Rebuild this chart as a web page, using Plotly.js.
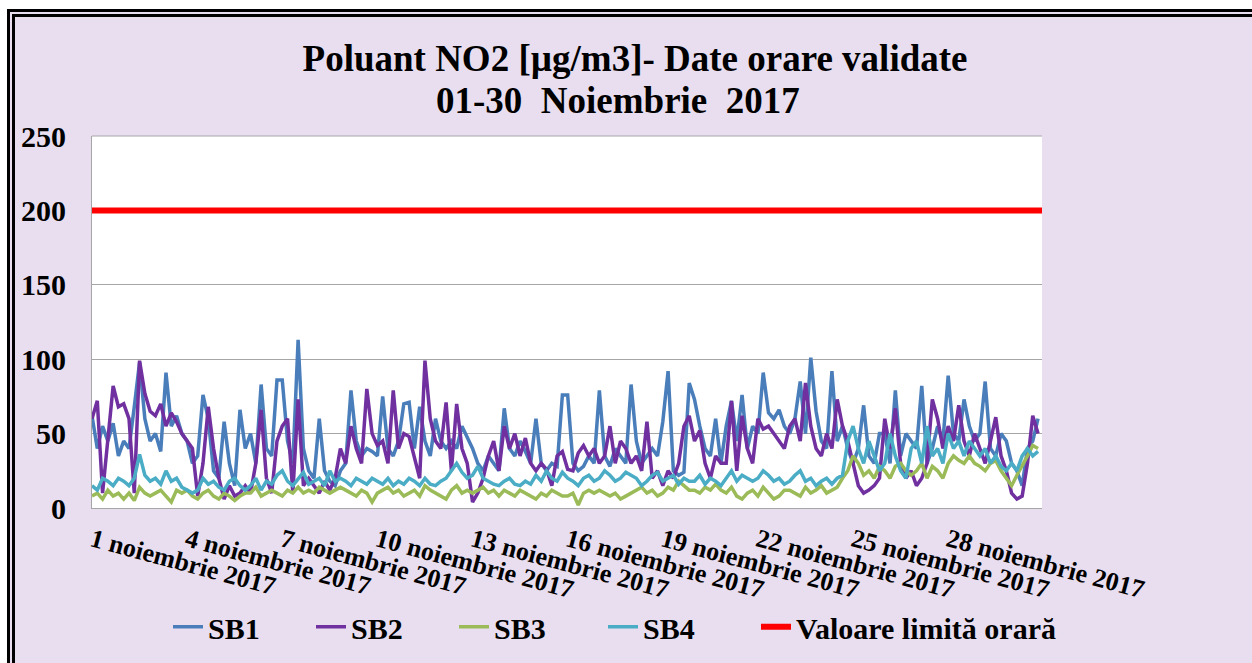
<!DOCTYPE html>
<html>
<head>
<meta charset="utf-8">
<script src="https://cdn.plot.ly/plotly-3.0.1.min.js"></script>
<style>
  html, body { margin: 0; padding: 0; background: #ffffff; width: 1252px; height: 663px; overflow: hidden; }
  #frame { position: absolute; left: 7px; top: 9px; width: 1300px; height: 700px;
           border: 8px double #000; background: #E8DEF0; }
  #chart { position: absolute; left: 0; top: 0; width: 1237px; height: 646px; }
</style>
</head>
<body>
<div id="frame"><div id="chart"></div></div>
<script>
// Day labels (every 3 days) and 4-hourly readings (00,04,08,12,16,20 h) per day, 1-30 Nov 2017
const tickDays = [1, 4, 7, 10, 13, 16, 19, 22, 25, 28];
const tickLabels = ["1 noiembrie 2017", "4 noiembrie 2017", "7 noiembrie 2017", "10 noiembrie 2017",
  "13 noiembrie 2017", "16 noiembrie 2017", "19 noiembrie 2017", "22 noiembrie 2017",
  "25 noiembrie 2017", "28 noiembrie 2017"];
const hoursOfDay = [0, 4, 8, 12, 16, 20];
const titleLine1 = "Poluant NO2 [µg/m3]- Date orare validate";
const titleLine2 = "01-30\u00A0 Noiembrie\u00A0 2017";

const SB1 = [
  62,40,55,45,57,35,  45,40,68,98,60,45,  50,38,91,55,62,50,  45,30,35,76,60,25,  20,58,30,15,66,40,
  50,30,83,40,35,86,  86,45,30,113,40,25, 20,60,25,18,15,25,  30,79,45,35,40,38,  35,75,40,35,45,70,
  71,40,68,45,35,60,  45,40,45,40,55,48,  40,30,25,35,30,25,  67,40,35,45,38,30,  60,30,25,30,28,76,
  76,30,25,28,35,30,  79,35,28,40,35,30,  83,45,30,35,40,35,  58,92,25,22,24,84,  73,55,40,35,60,30,
  55,72,45,76,40,55,  50,91,64,60,66,55,  50,60,85,50,101,65, 45,40,92,45,55,40,  30,40,69,35,30,50,
  50,30,79,35,50,45,  40,82,30,40,55,45,  89,50,45,73,55,45,  50,85,40,35,50,45,  30,25,15,40,45,60
];
const SB2 = [
  60,72,10,45,82,68,  70,60,10,99,77,65,  62,70,55,64,58,50,  45,40,8,30,68,40,   20,6,15,8,10,15,
  10,30,66,20,10,45,  55,60,10,73,15,20,  15,10,18,12,20,40,  30,55,40,30,80,50,  42,45,30,79,40,50,
  48,35,20,99,60,45,  40,71,25,70,40,30,  4,10,20,35,45,25,   55,40,50,35,47,30,  25,30,26,15,35,38,
  26,25,37,42,35,40,  30,35,55,30,45,40,  30,35,25,58,20,25,  15,25,20,30,55,62,  45,52,30,20,35,30,
  30,72,25,62,40,30,  60,53,55,50,45,40,  55,60,45,84,55,40,  35,50,40,73,55,45,  30,15,10,12,15,20,
  60,40,67,30,20,25,  15,20,30,73,60,40,  55,45,69,45,35,50,  40,30,45,61,35,25,  10,6,8,30,62,50
];
const SB3 = [
  8,10,6,12,8,10,     6,10,5,14,10,8,     10,12,8,4,12,10,    12,8,6,10,12,8,     6,10,8,5,8,10,
  10,14,8,10,12,10,   8,12,10,14,10,12,   10,14,12,10,12,14,  12,10,8,12,10,4,    10,12,14,10,12,8,
  10,12,8,15,12,10,   8,6,12,15,10,12,    10,12,14,10,12,8,   12,10,8,12,10,8,    6,10,8,12,10,8,
  8,10,2,10,12,10,    12,10,8,10,6,8,     10,12,14,10,12,8,   10,14,12,18,15,12,  12,10,14,12,16,12,
  10,14,8,6,10,12,    8,14,10,6,8,12,     12,10,8,14,10,12,   15,10,12,14,20,25,  35,30,22,25,20,28,
  25,20,28,30,25,22,  25,30,20,28,25,20,  30,35,32,30,35,30,  28,25,30,32,25,20,  15,22,28,35,42,40
];
const SB4 = [
  15,12,20,18,15,20,  18,15,20,36,22,18,  20,16,25,18,20,14,  12,10,12,20,16,18,  14,12,18,20,15,12,
  15,20,12,18,16,22,  25,18,15,20,24,16,  18,20,15,25,18,20,  18,15,20,18,16,20,  18,16,20,15,18,16,
  20,18,15,20,16,15,  18,20,25,30,24,20,  22,28,20,18,16,15,  18,20,16,15,18,16,  22,18,25,20,18,24,
  20,18,15,20,22,18,  20,25,22,18,20,24,  22,20,15,18,22,24,  18,20,22,16,20,18,  18,22,16,20,18,15,
  20,25,18,22,20,18,  20,25,22,18,20,16,  18,22,25,18,20,15,  18,20,16,20,22,45,  55,40,30,45,35,25,
  30,50,35,25,20,40,  45,30,55,35,40,30,  50,40,45,35,45,40,  35,40,30,35,28,25,  30,25,35,40,35,38
];
const limitValue = [200, 200];
const seriesNames = ["SB1", "SB2", "SB3", "SB4", "Valoare limită orară"];
const seriesColors = ["#4A7EBB", "#7030A0", "#9BBB59", "#4BACC6", "#FF0000"];
const legendWidths = [98, 98, 104, 108, 300];

function pad(n) { return (n < 10 ? "0" : "") + n; }
function stamp(day, hour) { return "2017-11-" + pad(day) + " " + pad(hour) + ":00"; }
const xTimes = [];
for (let d = 1; d <= 30; d++) for (const h of hoursOfDay) xTimes.push(stamp(d, h));
const xStart = "2017-11-01 00:00";
const xEnd = "2017-11-30 23:00";

const serif = "Liberation Serif, Times New Roman, serif";
const data = [SB1, SB2, SB3, SB4].map((v, i) => ({
  type: "scatter", mode: "lines", x: xTimes, y: v, name: seriesNames[i],
  line: { color: seriesColors[i], width: 3.5 }, legendwidth: legendWidths[i]
}));
data.push({ type: "scatter", mode: "lines", x: [xStart, xEnd], y: limitValue, name: seriesNames[4],
  line: { color: seriesColors[4], width: 6 }, legendwidth: legendWidths[4] });

const layout = {
  width: 1237, height: 646,
  paper_bgcolor: "rgba(0,0,0,0)", plot_bgcolor: "#ffffff",
  margin: { l: 77, r: 210, t: 119, b: 154 },
  showlegend: true,
  title: { text: titleLine1,
    font: { family: serif, size: 37, color: "#000", weight: 700 },
    x: 0.5716, xref: "paper", xanchor: "center", y: 1 - 41 / 646, yref: "container", yanchor: "middle" },
  annotations: [{ text: titleLine2, xref: "paper", yref: "paper", x: 0.5537, y: 1.0965,
    xanchor: "center", yanchor: "middle", showarrow: false,
    font: { family: serif, size: 37, color: "#000", weight: 700 } }],
  xaxis: {
    type: "date", range: [xStart, xEnd],
    tickvals: tickDays.map(d => stamp(d, 0)), ticktext: tickLabels,
    tickangle: 15, tickfont: { family: serif, size: 26, color: "#000", weight: 700 },
    ticklabelstandoff: 6,
    showgrid: false, showline: true, linecolor: "#A6A6A6", linewidth: 1, ticks: "", zeroline: false
  },
  yaxis: {
    range: [0, 250], dtick: 50, tick0: 0,
    tickfont: { family: serif, size: 30, color: "#000", weight: 700 },
    showgrid: true, gridcolor: "#A6A6A6", gridwidth: 1,
    showline: true, linecolor: "#A6A6A6", linewidth: 1, ticks: "", ticklabelstandoff: 19, zeroline: false
  },
  legend: { orientation: "h", x: 0.08, xanchor: "left", y: -0.316, yanchor: "middle",
    font: { family: serif, size: 30, color: "#000", weight: 700 },
    bgcolor: "rgba(0,0,0,0)" },
  shapes: [{ type: "line", xref: "paper", yref: "paper", x0: 0, x1: 1, y0: 1, y1: 1,
    line: { color: "#A6A6A6", width: 1 } }]
};
Plotly.newPlot("chart", data, layout, { staticPlot: true, displayModeBar: false });
</script>
</body>
</html>
